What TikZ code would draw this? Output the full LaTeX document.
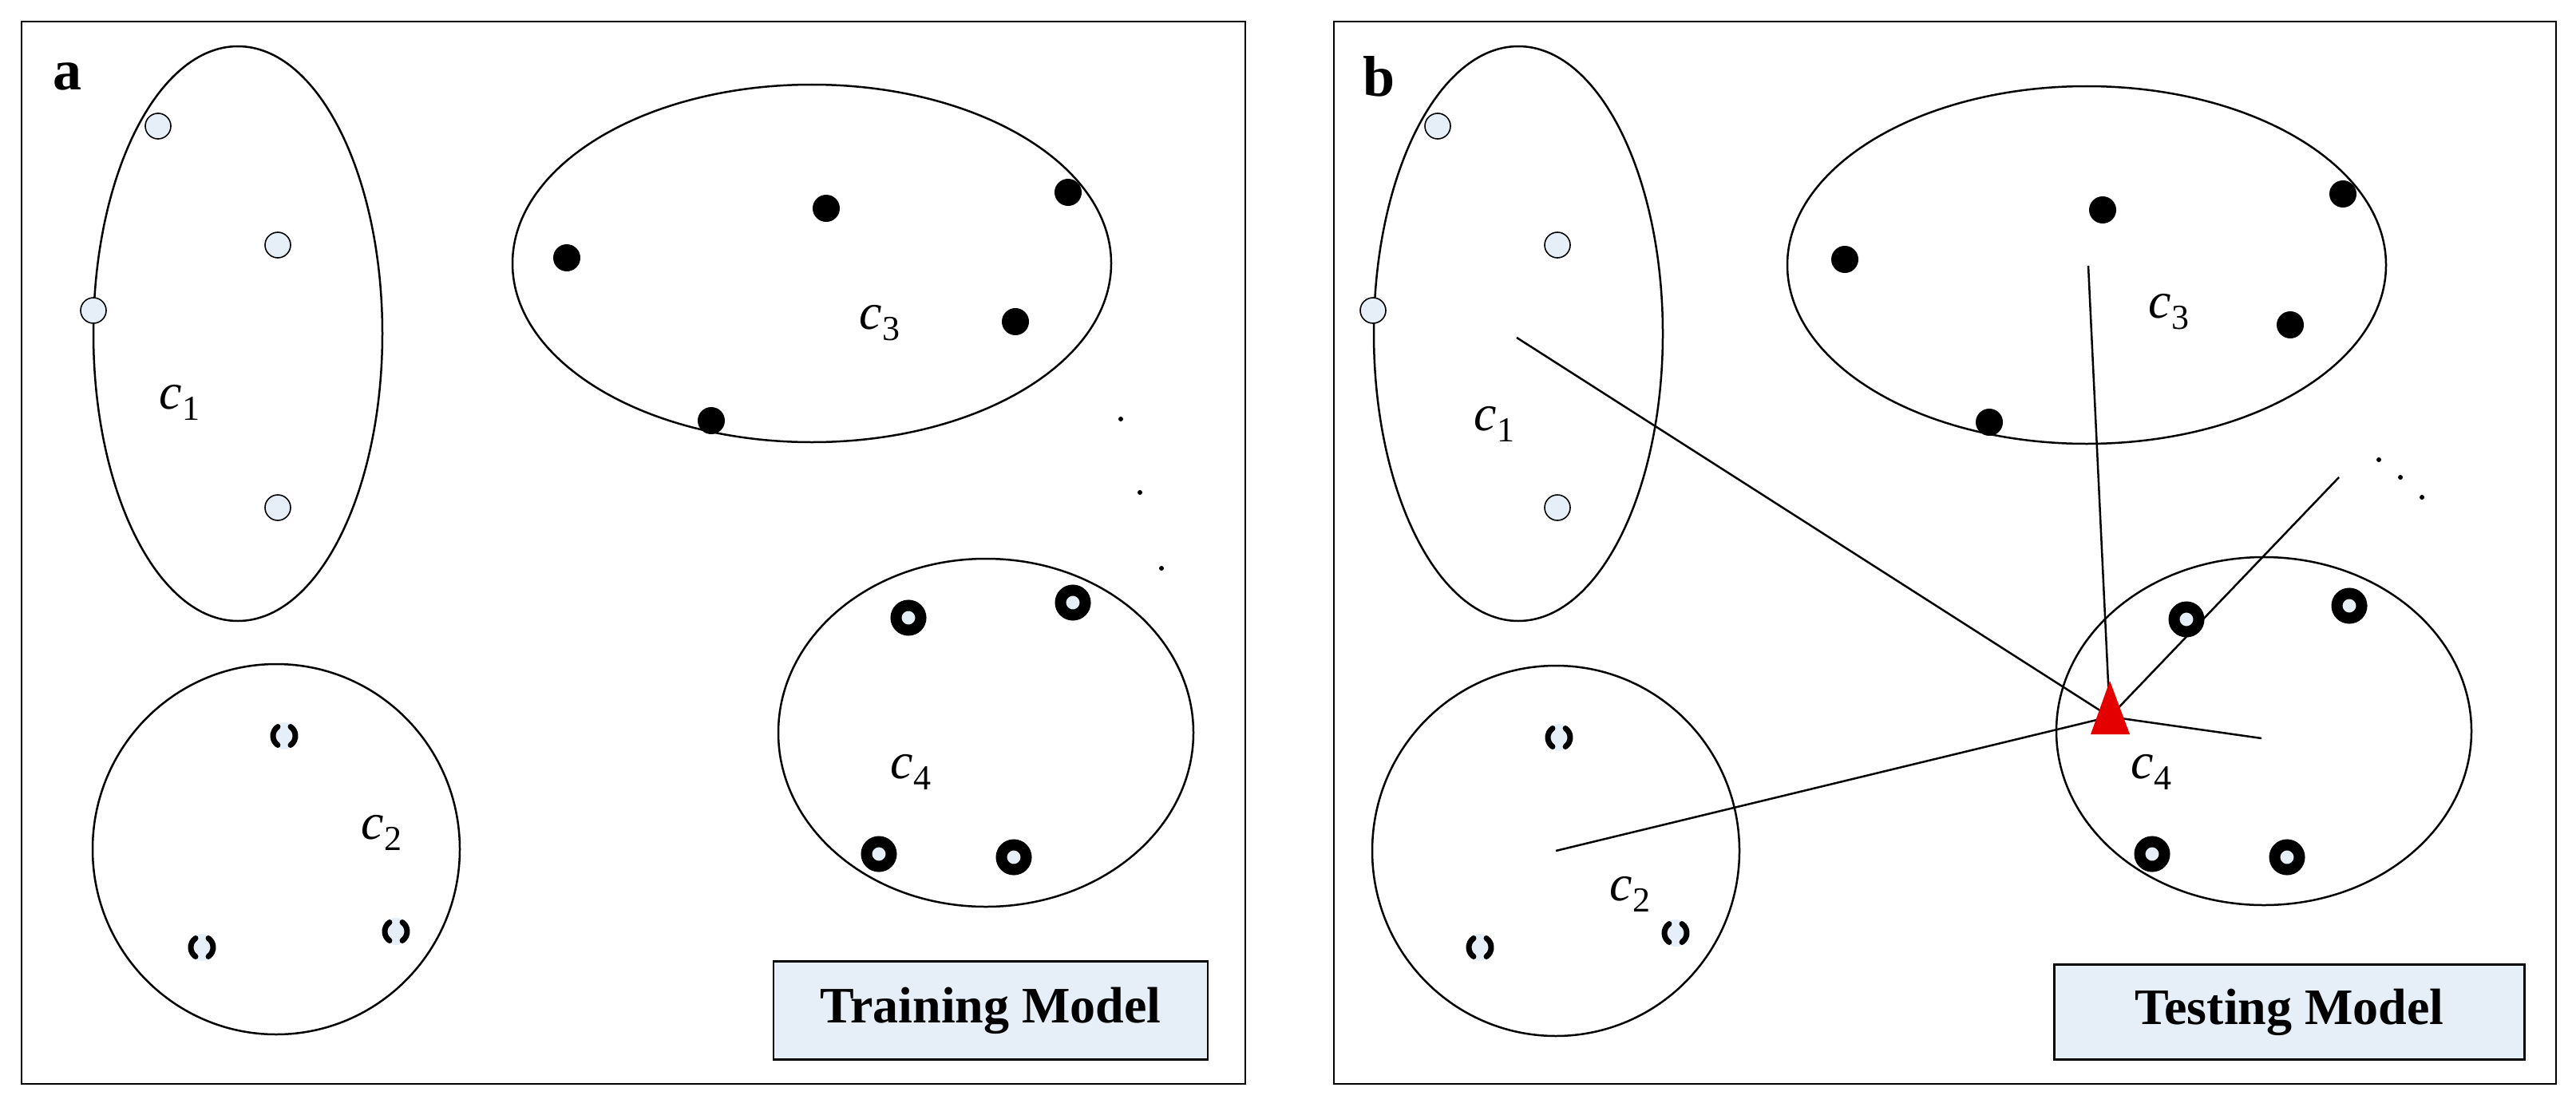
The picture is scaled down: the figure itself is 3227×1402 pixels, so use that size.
\documentclass[tikz,border=0pt]{standalone}
\usepackage{fontspec}
\setmainfont{Liberation Serif}
\definecolor{pale}{HTML}{E6EEF7}
\begin{document}
\begin{tikzpicture}[x=1pt,y=-1pt,
  cl/.style={draw=black,line width=2.5pt},
  lt/.style={circle,draw=black,line width=1.6pt,fill=pale,minimum size=32pt,inner sep=0pt},
  bk/.style={circle,fill=black,minimum size=34pt,inner sep=0pt},
  rg/.style={circle,draw=black,line width=14pt,fill=pale,minimum size=31pt,inner sep=0pt},
  br/.style={circle,fill=pale,minimum size=34pt,inner sep=0pt},
  lb/.style={font=\fontsize{64}{70}\selectfont},
  dt/.style={circle,fill=black,minimum size=6pt,inner sep=0pt},
  ln/.style={draw=black,line width=2.5pt},
  arc/.style={draw=black,line width=7pt,line cap=round},
  bx/.style={draw=black,line width=2.5pt,fill=pale,font=\bfseries\fontsize{64}{70}\selectfont,inner sep=0pt}]
\useasboundingbox (0,0) rectangle (3227,1402);
\newcommand\cc[1]{\textit{c}\raisebox{-14pt}{\fontsize{44}{48}\selectfont #1}}
\newcommand\brk[1]{\draw[arc] ([shift={(125:14pt)}]#1.center) arc (125:235:14pt);
  \draw[arc] ([shift={(-55:14pt)}]#1.center) arc (-55:55:14pt);}
% frames
\draw[line width=2.5pt] (27,27) rectangle (1560,1358);
\draw[line width=2.5pt] (1671,27) rectangle (3202,1358);
\node[font=\bfseries\fontsize{72}{76}\selectfont] (la) at (84,96) {a};
\node[font=\bfseries\fontsize{72}{76}\selectfont] (lbb) at (1727,96) {b};
% ===== panel a
\draw[cl] (298,418) ellipse (181 and 360);
\draw[cl] (1017,330) ellipse (375 and 224);
\draw[cl] (346,1064) ellipse (230 and 232);
\draw[cl] (1235,918) ellipse (260 and 218);
\node[lt] (a11) at (198,158) {}; \node[lt] (a12) at (348,307) {};
\node[lt] (a13) at (117,389) {}; \node[lt] (a14) at (348,636) {};
\node[lb] (ac1) at (225,504) {\cc{1}};
\node[bk] (a31) at (710,323) {}; \node[bk] (a32) at (1035,261) {};
\node[bk] (a33) at (1338,241) {}; \node[bk] (a34) at (1272,403) {};
\node[bk] (a35) at (891,527) {};
\node[lb] (ac3) at (1102,405) {\cc{3}};
\node[dt] (ad1) at (1404,525) {}; \node[dt] (ad2) at (1428,617) {}; \node[dt] (ad3) at (1455,712) {};
\node[br] (a21) at (356,922) {}; \node[br] (a22) at (253,1187) {}; \node[br] (a23) at (496,1167) {};
\brk{a21}\brk{a22}\brk{a23}
\node[lb] (ac2) at (478,1043) {\cc{2}};
\node[rg] (a41) at (1138,774) {}; \node[rg] (a42) at (1344,755) {};
\node[rg] (a43) at (1101,1070) {}; \node[rg] (a44) at (1270,1074) {};
\node[lb] (ac4) at (1141,967) {\cc{4}};
\node[bx,minimum width=544pt,minimum height=123pt] (tr) at (1241,1266) {Training Model};
% ===== panel b
\draw[cl] (1902,418) ellipse (181 and 360);
\draw[cl] (2614,332) ellipse (375 and 224);
\draw[cl] (1949,1066) ellipse (230 and 232);
\draw[cl] (2836,916) ellipse (260 and 218);
\coordinate (v) at (2643,898);
\coordinate (e1) at (1900,423);
\coordinate (e3) at (2616,333);
\coordinate (ed) at (2930,598);
\coordinate (e4) at (2833,925);
\coordinate (e2) at (1949,1066);
\draw[ln] (v) -- (e1); \draw[ln] (v) -- (e3); \draw[ln] (v) -- (ed);
\draw[ln] (v) -- (e4); \draw[ln] (v) -- (e2);
\node[lt] (b11) at (1801,158) {}; \node[lt] (b12) at (1951,307) {};
\node[lt] (b13) at (1720,389) {}; \node[lt] (b14) at (1951,636) {};
\node[lb] (bc1) at (1872,531) {\cc{1}};
\node[bk] (b31) at (2311,325) {}; \node[bk] (b32) at (2634,263) {};
\node[bk] (b33) at (2935,243) {}; \node[bk] (b34) at (2869,407) {};
\node[bk] (b35) at (2492,529) {};
\node[lb] (bc3) at (2717,391) {\cc{3}};
\node[dt] (bd1) at (2980,576) {}; \node[dt] (bd2) at (3007,598) {}; \node[dt] (bd3) at (3034,623) {};
\node[br] (b21) at (1953,924) {}; \node[br] (b22) at (1854,1187) {}; \node[br] (b23) at (2099,1169) {};
\brk{b21}\brk{b22}\brk{b23}
\node[lb] (bc2) at (2042,1120) {\cc{2}};
\node[rg] (b41) at (2739,776) {}; \node[rg] (b42) at (2943,759) {};
\node[rg] (b43) at (2696,1070) {}; \node[rg] (b44) at (2865,1074) {};
\node[lb] (bc4) at (2695,967) {\cc{4}};
\fill[red!90!black] (2619,920) -- (2643,853) -- (2668,920) -- cycle;
\draw[ln] (v) -- (2643,898);
\node[bx,minimum width=589pt,minimum height=119pt] (te) at (2868,1268) {Testing Model};
\end{tikzpicture}
\end{document}
